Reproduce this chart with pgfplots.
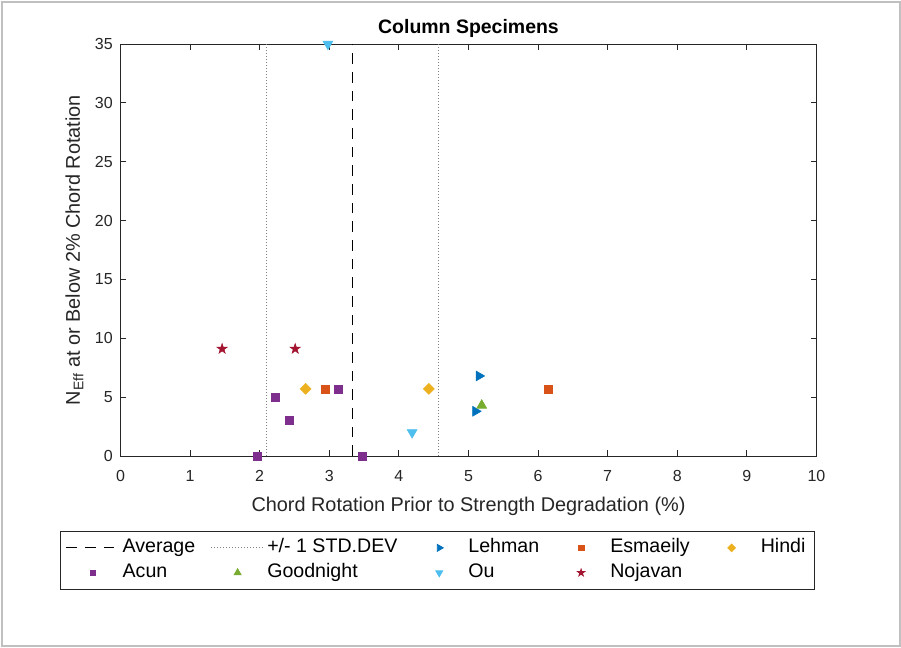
\documentclass[border=0pt]{standalone}
\usepackage{pgfplots}
\pgfplotsset{compat=1.18}
\usepackage{fontspec}
\setmainfont{Liberation Sans}
\usetikzlibrary{plotmarks}

\definecolor{axgray}{rgb}{0.15,0.15,0.15}
\definecolor{framegray}{RGB}{192,192,192}
\definecolor{dotgray}{rgb}{0.5,0.5,0.5}
\definecolor{mblue}{rgb}{0,0.447,0.741}
\definecolor{morange}{rgb}{0.85,0.325,0.098}
\definecolor{myellow}{rgb}{0.929,0.694,0.125}
\definecolor{mpurple}{rgb}{0.494,0.184,0.556}
\definecolor{mgreen}{rgb}{0.466,0.674,0.188}
\definecolor{mcyan}{rgb}{0.301,0.745,0.933}
\definecolor{mred}{rgb}{0.635,0.078,0.184}

% filled five-pointed star
\pgfdeclareplotmark{pentagram*}{%
  \pgfpathmoveto{\pgfpointpolar{90}{\pgfplotmarksize}}%
  \pgfpathlineto{\pgfpointpolar{126}{0.382\pgfplotmarksize}}%
  \pgfpathlineto{\pgfpointpolar{162}{\pgfplotmarksize}}%
  \pgfpathlineto{\pgfpointpolar{198}{0.382\pgfplotmarksize}}%
  \pgfpathlineto{\pgfpointpolar{234}{\pgfplotmarksize}}%
  \pgfpathlineto{\pgfpointpolar{270}{0.382\pgfplotmarksize}}%
  \pgfpathlineto{\pgfpointpolar{306}{\pgfplotmarksize}}%
  \pgfpathlineto{\pgfpointpolar{342}{0.382\pgfplotmarksize}}%
  \pgfpathlineto{\pgfpointpolar{18}{\pgfplotmarksize}}%
  \pgfpathlineto{\pgfpointpolar{54}{0.382\pgfplotmarksize}}%
  \pgfpathclose
  \pgfusepathqfillstroke}

\pgfplotsset{
  markentry/.style={legend image code/.code={%
    \path[draw=none, fill=none] (0pt,-3pt) rectangle (39.75pt,3pt);
    \draw[##1,/tikz/every mark/.append style={scale=0.7}] plot coordinates {(19.875pt,0pt)};}},
  lineentry/.style={legend image code/.code={%
    \draw[##1] (0pt,0pt) -- (39.75pt,0pt);}},
}

\begin{document}
\begin{tikzpicture}
% figure area and frame
\useasboundingbox (-90.375pt,-144pt) rectangle (585.375pt,342pt);
\fill[white] (-90.375pt,-144pt) rectangle (585.375pt,342pt);
\draw[framegray, line width=1.5pt] (-88.5pt,-142.875pt) rectangle (584.25pt,340.125pt);

\begin{axis}[
  at={(0,0)}, anchor=south west,
  scale only axis, width=522pt, height=309pt,
  xmin=0, xmax=10, ymin=0, ymax=35,
  xtick={0,1,...,10}, ytick={0,5,...,35},
  clip=false,
  tick align=inside, major tick length=4.5pt,
  axis line style={axgray, line width=0.6pt},
  every tick/.style={axgray, line width=0.6pt},
  /pgf/number format/assume math mode=true,
  tick label style={font=\fontsize{12}{14}\selectfont, text=axgray},
  xticklabel style={yshift=-7.5pt},
  yticklabel style={xshift=-2.3pt},
  every axis title shift=0pt,
  title={\textbf{Column Specimens}},
  title style={at={(axis description cs:0.5,1.0243)}, anchor=base,
    font=\fontsize{14.6}{17}\selectfont},
  xlabel={Chord Rotation Prior to Strength Degradation (\%)},
  xlabel style={at={(axis description cs:0.5,-0.1359)}, anchor=base,
    font=\fontsize{14.9}{17}\selectfont, text=axgray},
  ylabel={N\textsubscript{Eff} at or Below 2\% Chord Rotation},
  ylabel style={at={(axis description cs:-0.0582,0.5)}, anchor=base, rotate=0,
    font=\fontsize{14.9}{17}\selectfont, text=axgray},
  legend columns=5,
  legend style={at={(axis description cs:0.4548,-0.182)}, anchor=north,
    draw=axgray, line width=0.6pt, fill=white,
    font=\fontsize{14.7}{17}\selectfont, text=black,
    inner xsep=4.5pt, inner ysep=3pt,
    cells={anchor=west},
    nodes={inner xsep=2pt, inner ysep=2.6pt, text height=10.5pt, text depth=3pt},
    /tikz/every even column/.append style={column sep=9.5pt}},
]

% mean and one standard deviation either side
\addplot[black, line width=0.75pt, dash pattern=on 8pt off 6pt, lineentry]
  coordinates {(3.33,0) (3.33,35)};
\addlegendentry{Average}
\addplot[dotgray, line width=0.75pt, dash pattern=on 0.75pt off 1.5pt, lineentry, forget plot]
  coordinates {(2.10,0) (2.10,35)};
\addplot[dotgray, line width=0.75pt, dash pattern=on 0.75pt off 1.5pt, lineentry]
  coordinates {(4.57,0) (4.57,35)};
\addlegendentry{+/- 1 STD.DEV}

% specimens by source
\addplot[only marks, mark=triangle*, mark size=4.3pt, mark options={rotate=-90},
  color=mblue, markentry] coordinates {(5.15,6.8) (5.10,3.8)};
\addlegendentry{Lehman}
\addplot[only marks, mark=square*, mark size=3pt,
  color=morange, markentry] coordinates {(2.94,5.7) (6.15,5.7)};
\addlegendentry{Esmaeily}
\addplot[only marks, mark=square*, mark size=2.9pt, mark options={rotate=45},
  color=myellow, markentry] coordinates {(2.66,5.7) (4.43,5.7)};
\addlegendentry{Hindi}
\addplot[only marks, mark=square*, mark size=3pt,
  color=mpurple, markentry] coordinates {(2.23,5) (2.43,3) (1.96,0) (3.48,0) (3.13,5.7)};
\addlegendentry{Acun}
\addplot[only marks, mark=triangle*, mark size=4.3pt,
  color=mgreen, markentry] coordinates {(5.19,4.3)};
\addlegendentry{Goodnight}
\addplot[only marks, mark=triangle*, mark size=4.3pt, mark options={rotate=180},
  color=mcyan, markentry] coordinates {(2.98,35) (4.19,2)};
\addlegendentry{Ou}
\addplot[only marks, mark=pentagram*, mark size=4pt,
  color=mred, markentry] coordinates {(1.46,9.1) (2.51,9.1)};
\addlegendentry{Nojavan}
\end{axis}
\end{tikzpicture}
\end{document}
